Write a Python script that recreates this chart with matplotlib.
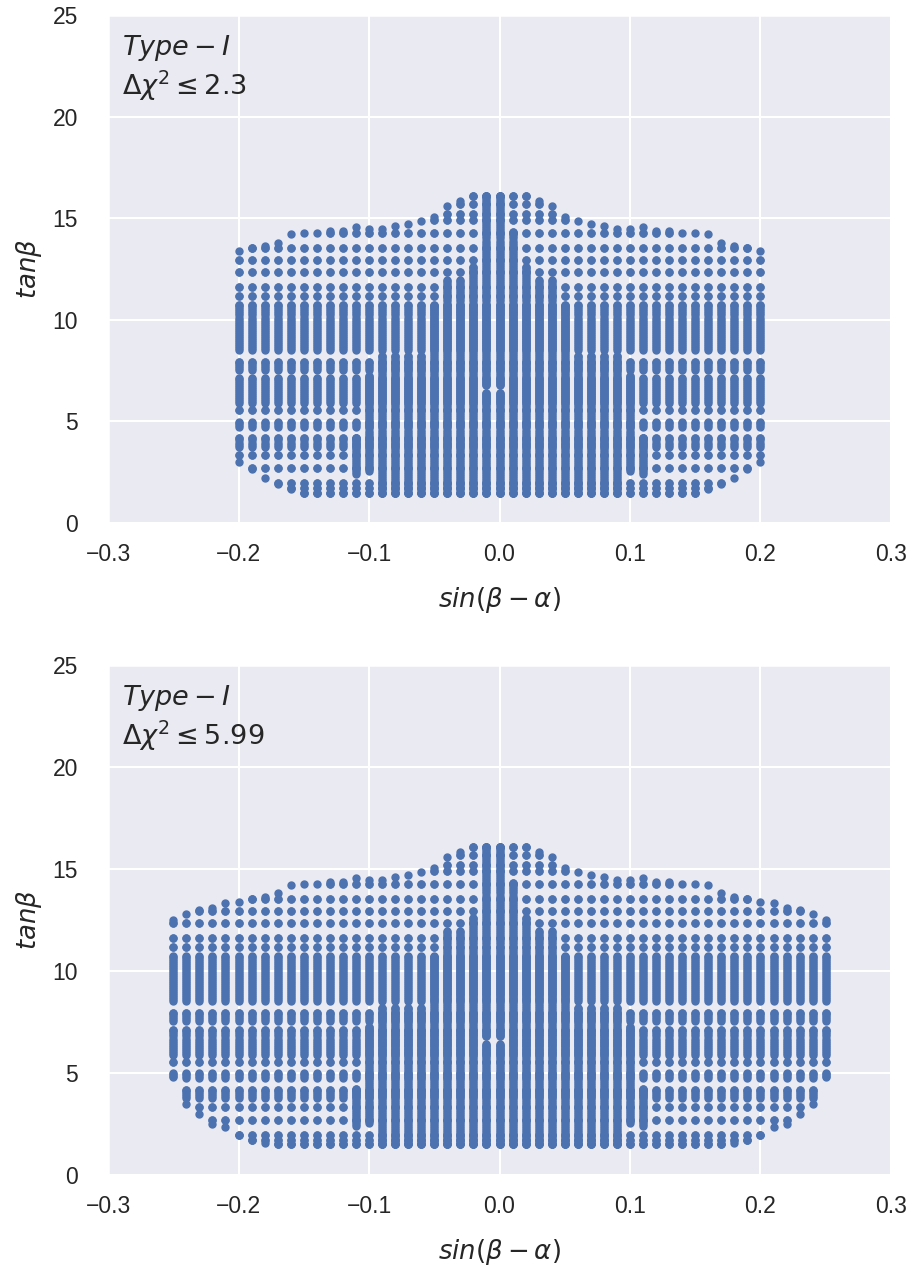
import numpy as np
import matplotlib
matplotlib.use('Agg')
import matplotlib.pyplot as plt
import seaborn as sns

sns.set()
plt.rcParams['font.family'] = ['sans-serif']
plt.rcParams['font.sans-serif'] = ['Liberation Sans', 'DejaVu Sans']

# scan columns in sin(beta-alpha), -0.25 ... 0.25
sba = [-0.25, -0.24, -0.23, -0.22, -0.21, -0.20, -0.19, -0.18, -0.17, -0.16,
       -0.15, -0.14, -0.13, -0.12, -0.11, -0.10, -0.09, -0.08, -0.07, -0.06,
       -0.05, -0.04, -0.03, -0.02, -0.01, 0.00, 0.01, 0.02, 0.03, 0.04,
       0.05, 0.06, 0.07, 0.08, 0.09, 0.10, 0.11, 0.12, 0.13, 0.14,
       0.15, 0.16, 0.17, 0.18, 0.19, 0.20, 0.21, 0.22, 0.23, 0.24, 0.25]

# highest allowed tanb in each column
tanb_max = [12.5, 12.8, 13.0, 13.1, 13.35, 13.4, 13.55, 13.65, 13.8, 14.2,
            14.25, 14.25, 14.35, 14.35, 14.55, 14.45, 14.45, 14.6, 14.7, 14.85,
            15.05, 15.6, 15.85, 16.1, 16.1, 16.1, 16.1, 16.1, 15.85, 15.6,
            15.05, 14.85, 14.7, 14.6, 14.45, 14.45, 14.55, 14.35, 14.35, 14.25,
            14.25, 14.2, 13.8, 13.65, 13.55, 13.4, 13.35, 13.1, 13.0, 12.8, 12.5]

# lowest allowed tanb, dchi2 <= 2.3 (only -0.2 ... 0.2) and dchi2 <= 5.99
tanb_min_23 = [None] * 5 + [3.0, 2.65, 2.2, 1.9, 1.65] + [1.5] * 31 + \
              [1.65, 1.9, 2.2, 2.65, 3.0] + [None] * 5
tanb_min_599 = [4.8, 3.5, 3.0, 2.5, 2.35, 1.95, 1.7, 1.55] + [1.5] * 35 + \
               [1.55, 1.7, 1.95, 2.35, 2.5, 3.0, 3.5, 4.8]

# densely scanned part of each column (0 = none)
dense_lo = [0] * 14 + [2.4, 2.55] + [1.5] * 19 + [2.55, 2.4] + [0] * 14
dense_hi = [0] * 14 + [4.2, 7.25, 8.2, 8.2, 8.2, 8.2, 10.7, 11.95, 11.95, 12.6,
                       16.1, 16.1, 14.3, 12.6, 11.95, 11.95, 10.7,
                       8.2, 8.2, 8.2, 8.2, 7.25, 4.2] + [0] * 14

# coarse tanb scan bands
coarse_bands = [(1.5, 1.5), (1.7, 1.7), (1.96, 1.96), (2.69, 2.69), (3.35, 3.35),
                (3.76, 4.17), (4.74, 4.99), (5.56, 5.56), (5.89, 7.12),
                (7.53, 7.94), (8.51, 10.73), (11.17, 11.17), (11.63, 11.63),
                (12.37, 12.37), (12.94, 12.94), (13.52, 13.52), (14.26, 14.26),
                (14.9, 14.9), (15.2, 15.2), (15.7, 15.7), (16.1, 16.1)]
fine_step = 0.1

# hole in the central columns
hole_cols = [-0.01, 0.00]
hole_range = (6.45, 6.75)


def band(a, b):
    return list(np.arange(a, b + 1e-6, fine_step)) + [b]


def scan_points(tanb_min):
    xs, ys = [], []
    for i, x in enumerate(sba):
        lo, hi = tanb_min[i], tanb_max[i]
        if lo is None:
            continue
        col = [lo, hi]
        for a, b in coarse_bands:
            col += band(a, b)
        if dense_hi[i] > 0:
            col += band(dense_lo[i], dense_hi[i])
        col = np.array([t for t in col if lo - 1e-6 <= t <= hi + 1e-6])
        if x in hole_cols:
            col = col[(col < hole_range[0]) | (col > hole_range[1])]
        xs += [x] * len(col)
        ys += list(col)
    return np.array(xs), np.array(ys)


panels = [(tanb_min_23, r'$\Delta\chi^2 \leq 2.3$'),
          (tanb_min_599, r'$\Delta\chi^2 \leq 5.99$')]
axes_pos = [[0.1183, 0.5869, 0.8576, 0.4013],
            [0.1183, 0.0719, 0.8576, 0.4028]]

fig = plt.figure(figsize=(913 / 150, 1266 / 150), dpi=150)
for (tmin, lab), pos in zip(panels, axes_pos):
    ax = fig.add_axes(pos)
    x, y = scan_points(tmin)
    ax.plot(x, y, '.', color='#4C72B0')
    ax.set_xlim(-0.3, 0.3)
    ax.set_ylim(0, 25)
    ax.set_xticks([-0.3, -0.2, -0.1, 0.0, 0.1, 0.2, 0.3])
    ax.set_yticks([0, 5, 10, 15, 20, 25])
    ax.tick_params(axis='y', pad=8.5)
    ax.set_xlabel(r'$sin(\beta-\alpha)$', fontsize=12.5, labelpad=9)
    ax.set_ylabel(r'$tan\beta$', fontsize=12.5)
    ax.text(0.018, 0.965, '$Type-I$\n' + lab, transform=ax.transAxes,
            va='top', ha='left', fontsize=13)

fig.savefig('out.png', dpi=150)
